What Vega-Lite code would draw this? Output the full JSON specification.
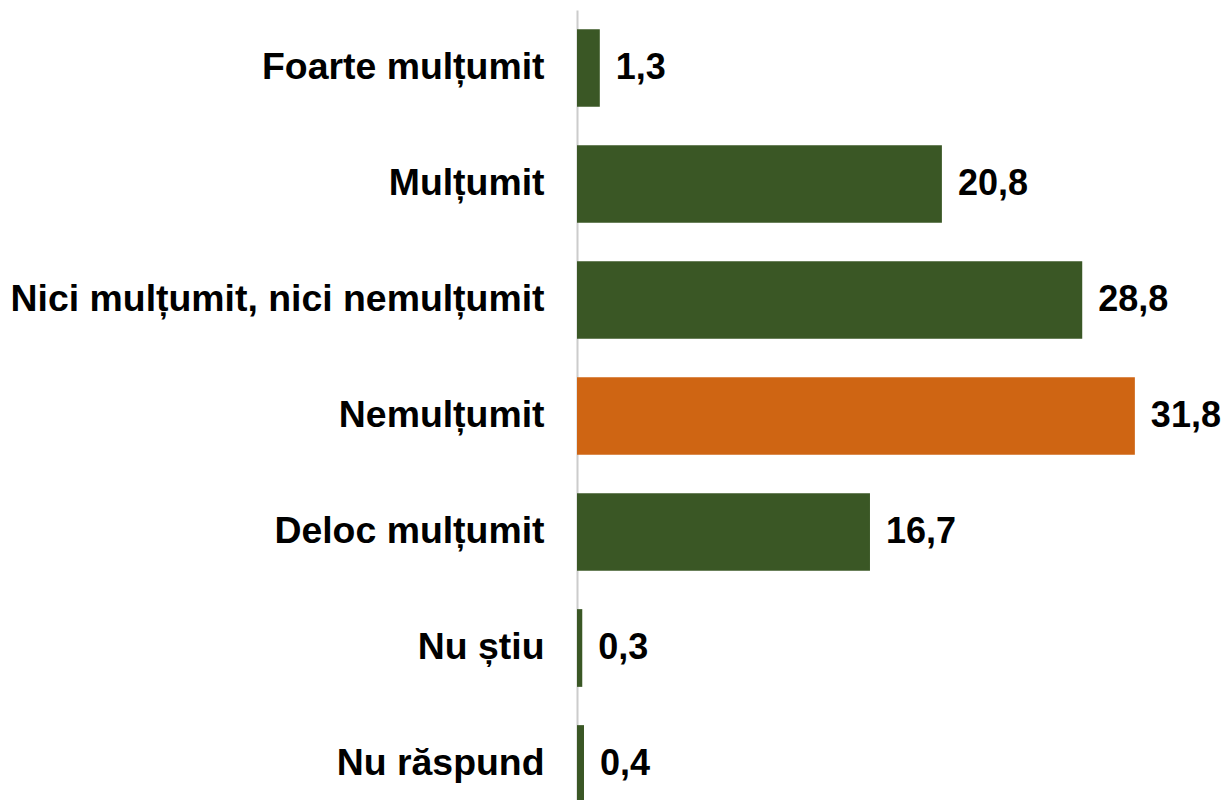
{
  "$schema": "https://vega.github.io/schema/vega-lite/v6.json",
  "autosize": {"type": "none"},
  "padding": {"left": 577, "top": 10, "right": 37, "bottom": -22},
  "width": 614,
  "height": 812,
  "background": "#ffffff",
  "config": {"view": {"stroke": null}, "font": "Liberation Sans"},
  "data": {
    "values": [
      {"categorie": "Foarte mulțumit", "valoare": 1.3, "eticheta": "1,3", "grup": "a"},
      {"categorie": "Mulțumit", "valoare": 20.8, "eticheta": "20,8", "grup": "a"},
      {"categorie": "Nici mulțumit, nici nemulțumit", "valoare": 28.8, "eticheta": "28,8", "grup": "a"},
      {"categorie": "Nemulțumit", "valoare": 31.8, "eticheta": "31,8", "grup": "b"},
      {"categorie": "Deloc mulțumit", "valoare": 16.7, "eticheta": "16,7", "grup": "a"},
      {"categorie": "Nu știu", "valoare": 0.3, "eticheta": "0,3", "grup": "a"},
      {"categorie": "Nu răspund", "valoare": 0.4, "eticheta": "0,4", "grup": "a"}
    ]
  },
  "encoding": {
    "y": {
      "field": "categorie",
      "type": "nominal",
      "sort": null,
      "scale": {"paddingInner": 0.33, "paddingOuter": 0.165},
      "axis": {
        "title": null,
        "ticks": false,
        "domain": true,
        "domainColor": "#cccccc",
        "domainWidth": 2,
        "labelFont": "Liberation Sans",
        "labelFontWeight": "bold",
        "labelFontSize": 37.4,
        "labelColor": "#000000",
        "labelPadding": 33,
        "labelLimit": 700
      }
    },
    "x": {
      "field": "valoare",
      "type": "quantitative",
      "scale": {"domain": [0, 35]},
      "axis": null
    }
  },
  "layer": [
    {
      "mark": {"type": "bar"},
      "encoding": {
        "color": {
          "field": "grup",
          "type": "nominal",
          "scale": {"domain": ["a", "b"], "range": ["#3a5725", "#cf6513"]},
          "legend": null
        }
      }
    },
    {
      "mark": {"type": "text", "align": "left", "baseline": "middle", "dx": 16, "font": "Liberation Sans", "fontWeight": "bold", "fontSize": 36, "color": "#000000"},
      "encoding": {"text": {"field": "eticheta"}}
    }
  ]
}
